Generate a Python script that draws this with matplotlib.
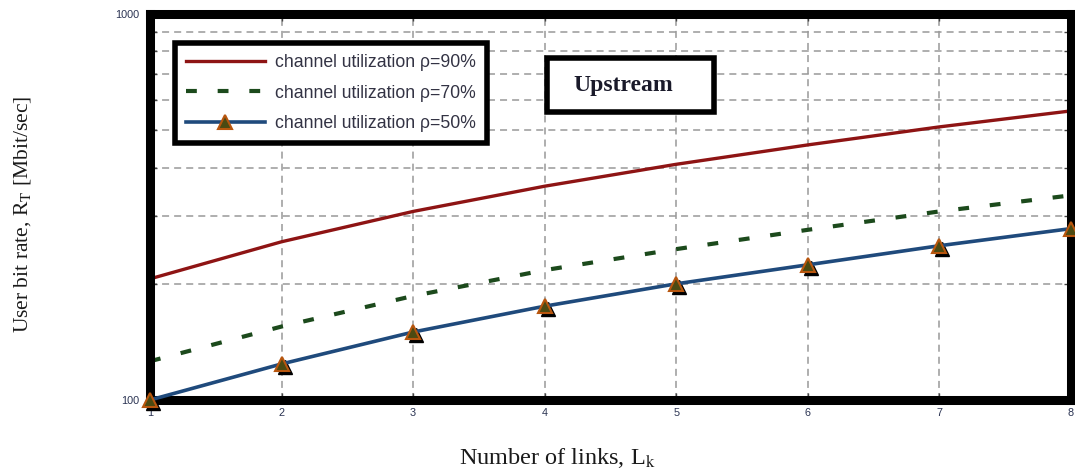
import matplotlib
matplotlib.use("Agg")
import matplotlib.pyplot as plt
from matplotlib.patches import Rectangle
from matplotlib.transforms import offset_copy
from matplotlib.ticker import FixedLocator, NullFormatter, LogLocator

plt.rcParams['font.family'] = ['Liberation Sans', 'DejaVu Sans']
plt.rcParams['mathtext.fontset'] = 'stix'

# user bit rate [Mbit/s] against number of links
links = [1, 2, 3, 4, 5, 6, 7, 8]
rate_rho90 = [206, 257, 308, 358, 408, 458, 510, 561]
rate_rho70 = [126, 155, 186, 217, 246, 276, 308, 339]
rate_rho50 = [100, 124, 150, 175, 200, 224, 251, 278]

labels = ["channel utilization \u03c1=90%",
          "channel utilization \u03c1=70%",
          "channel utilization \u03c1=50%"]

red = "#8e1414"
green = "#1c4a1c"
blue = "#1f4a7c"
tri_edge = "#b8560e"
tri_face = "#4b4a12"

fig = plt.figure(figsize=(10.75, 4.73), dpi=100)
ax = fig.add_axes([150 / 1075, 73 / 473, 921 / 1075, 386 / 473])

ax.plot(links, rate_rho90, "-", color=red, lw=2.4, label=labels[0])
ax.plot(links, rate_rho70, color=green, lw=3.0, linestyle=(0, (2.6, 5.0)),
        dash_capstyle="butt", label=labels[1])

# black drop shadow behind the triangle markers
shadow = offset_copy(ax.transData, fig=fig, x=3, y=-3, units="dots")
ax.plot(links, rate_rho50, "^", color="black", ms=10, transform=shadow,
        clip_on=False, zorder=3)
ax.plot(links, rate_rho50, "-", color=blue, lw=2.6, label=labels[2],
        marker="^", ms=10, mfc=tri_face, mec=tri_edge, mew=1.5,
        clip_on=False, zorder=3.1)

ax.set_yscale("log")
ax.set_xlim(1, 8)
ax.set_ylim(100, 1000)
ax.set_xticks(links)
ax.yaxis.set_major_locator(FixedLocator([100, 1000]))
ax.yaxis.set_major_formatter(plt.FixedFormatter(["100", "1000"]))
ax.yaxis.set_minor_locator(LogLocator(base=10, subs=range(2, 10)))
ax.yaxis.set_minor_formatter(NullFormatter())

ax.tick_params(which="both", direction="in", top=True, right=True,
               length=5, width=1, color="#444444",
               labelsize=7.8, labelcolor="#2a3352")
ax.tick_params(axis="x", pad=6)
ax.tick_params(axis="y", pad=8)

grid_style = dict(color="#999999", lw=1.1, linestyle=(0, (4.6, 3.3)))
ax.grid(which="major", axis="x", **grid_style)
ax.grid(which="minor", axis="y", **grid_style)
ax.set_axisbelow(True)

for sp in ax.spines.values():
    sp.set_linewidth(6.5)
    sp.set_color("black")

leg = ax.legend(loc="upper left", bbox_to_anchor=(0.027, 0.925),
                borderaxespad=0, fancybox=False, frameon=True,
                handlelength=4.5, handletextpad=0.55, labelspacing=0.78,
                borderpad=0.62, numpoints=1, prop={"size": 12.7})
leg.get_frame().set_edgecolor("black")
leg.get_frame().set_linewidth(4)
leg.get_frame().set_alpha(None)
leg.get_frame().set_facecolor("white")
for t in leg.get_texts():
    t.set_color("#333344")

# "Upstream" tag
ax.add_patch(Rectangle((0.4315, 0.747), 0.181, 0.138, transform=ax.transAxes,
                       fill=True, facecolor="white", edgecolor="black",
                       lw=4, zorder=4))
ax.text(0.5136, 0.816, "Upstream", transform=ax.transAxes, ha="center",
        va="center", fontsize=17, fontweight="bold",
        family="Liberation Serif", color="#1a1a2a", zorder=5)

ax.set_xlabel("Number of links, L$_\\mathrm{k}$", family="Liberation Serif",
              fontsize=17.5, color="#1a1a1a")
ax.xaxis.set_label_coords(0.442, -0.118)
ax.set_ylabel("User bit rate, R$_\\mathrm{T}$ [Mbit/sec]",
              family="Liberation Serif", fontsize=15.5, color="#1a1a1a")
ax.yaxis.set_label_coords(-0.127, 0.48)

fig.savefig("out.png", dpi=100)
